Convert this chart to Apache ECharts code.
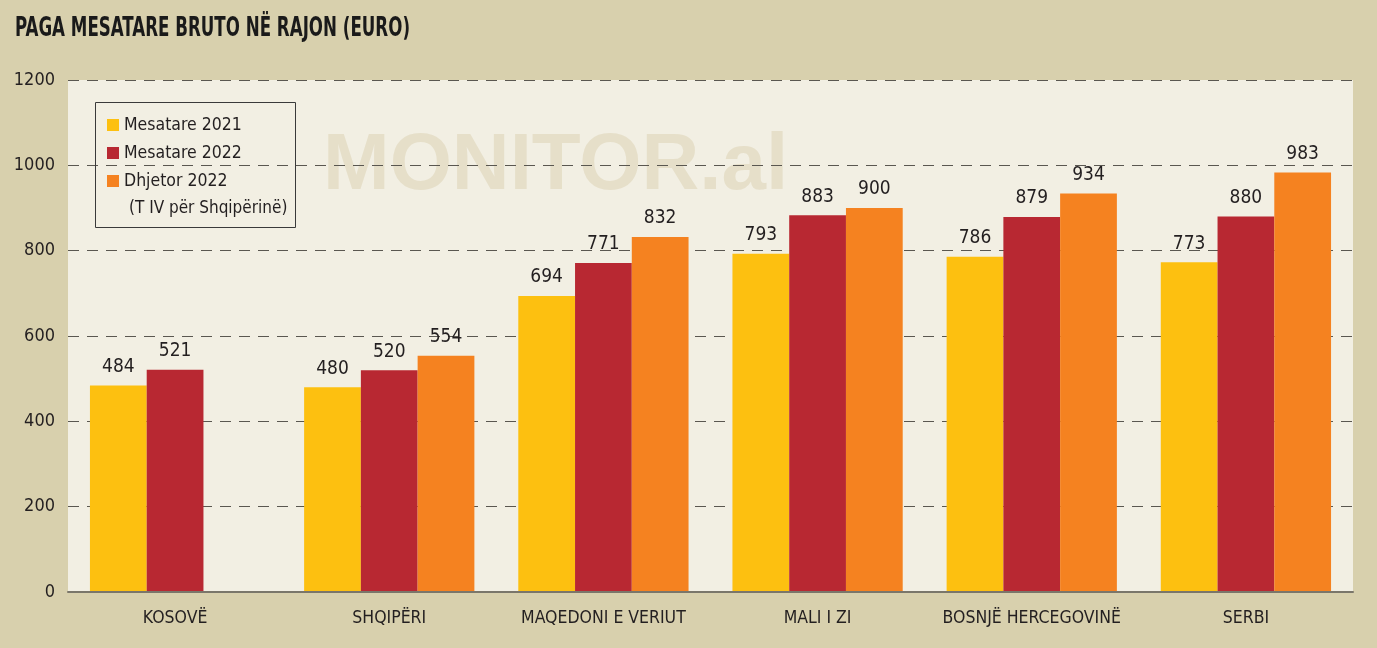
<!DOCTYPE html>
<html>
<head>
<meta charset="utf-8">
<script src="https://cdn.jsdelivr.net/npm/echarts@6/dist/echarts.min.js"></script>
<style>
html,body{margin:0;padding:0;background:#d8d0ad;}
#chart{width:1377px;height:648px;}
</style>
</head>
<body>
<div id="chart"></div>
<script>
const titleText = 'PAGA MESATARE BRUTO NË RAJON (EURO)';
const categories = ['KOSOVË', 'SHQIPËRI', 'MAQEDONI E VERIUT', 'MALI I ZI', 'BOSNJË HERCEGOVINË', 'SERBI'];
const seriesNames = ['Mesatare 2021', 'Mesatare 2022', 'Dhjetor 2022'];
const legendNote = '(T IV për Shqipërinë)';
const mesatare2021 = [484, 480, 694, 793, 786, 773];
const mesatare2022 = [521, 520, 771, 883, 879, 880];
const dhjetor2022 = [null, 554, 832, 900, 934, 983];
const yTicks = [0, 200, 400, 600, 800, 1000, 1200];
const colors = ['#fdc010', '#b82832', '#f58220'];

const FONT = '"DejaVu Sans Condensed", "Liberation Sans Narrow", sans-serif';
const chart = echarts.init(document.getElementById('chart'), null, {renderer: 'canvas'});

function mkSeries(name, data, color) {
  return {
    name: name,
    type: 'bar',
    data: data,
    barGap: '0%',
    barCategoryGap: '20.5%',
    itemStyle: {color: color},
    label: {
      show: true,
      position: 'top',
      distance: 9,
      color: '#231f20',
      fontFamily: FONT,
      fontSize: 19,
      formatter: p => p.value
    },
    z: 3
  };
}

// measure title to squeeze it like the condensed original
const ctx = document.createElement('canvas').getContext('2d');
ctx.font = 'bold 26px ' + FONT;
const titleW = ctx.measureText(titleText).width;
const titleScale = 395 / titleW;

chart.setOption({
  backgroundColor: '#d8d0ad',
  animation: false,
  grid: {
    left: 68, right: 24, top: 80, bottom: 56,
    show: false
  },
  legend: {
    data: seriesNames,
    orient: 'vertical',
    left: 93, top: 100,
    padding: [15, 14, 34, 14],
    itemWidth: 12, itemHeight: 12,
    itemGap: 8,
    itemTextGap: 10,
    icon: 'rect',
    textStyle: {fontFamily: FONT, fontSize: 17.5, color: '#231f20', lineHeight: 20},
    itemStyle: {borderWidth: 0}
  },
  graphic: [
    {
      type: 'rect', left: 68, top: 80, z: -2, silent: true,
      shape: {width: 1285, height: 512},
      style: {fill: '#f2efe3'}
    },
    {
      type: 'text', left: 323, top: 127, z: -1, silent: true,
      style: {text: 'MONITOR.al', font: 'bold 80px "Liberation Sans", Arial, sans-serif', fill: '#e6dfc9'}
    },
    {
      type: 'text', x: 15, y: 16, z: 10, silent: true,
      scaleX: titleScale, scaleY: 1,
      style: {text: titleText, font: 'bold 26px ' + FONT, fill: '#1a1a1a', textVerticalAlign: 'top'}
    },
    {
      type: 'rect', left: 93, top: 100, z: 10, silent: true,
      shape: {width: 200, height: 125},
      style: {fill: 'none', stroke: '#3a3a3a', lineWidth: 1}
    },
    {
      type: 'text', left: 129, top: 200, z: 10, silent: true,
      style: {text: legendNote, font: '17px ' + FONT, fill: '#231f20'}
    }
  ],
  xAxis: {
    type: 'category',
    data: categories,
    axisLine: {show: true, lineStyle: {color: '#7a766a', width: 2}},
    axisTick: {show: false},
    axisLabel: {fontFamily: FONT, fontSize: 17.5, color: '#231f20', margin: 17, interval: 0},
    z: 5
  },
  yAxis: {
    type: 'value',
    min: 0, max: 1200, interval: 200,
    axisLine: {show: false},
    axisTick: {show: false},
    axisLabel: {fontFamily: FONT, fontSize: 18, color: '#231f20', margin: 13,
      formatter: v => yTicks.includes(v) ? String(v) : ''},
    splitLine: {show: true, lineStyle: {color: '#5a5750', width: 1, type: [11, 8]}}
  },
  series: [
    mkSeries(seriesNames[0], mesatare2021, colors[0]),
    mkSeries(seriesNames[1], mesatare2022, colors[1]),
    mkSeries(seriesNames[2], dhjetor2022, colors[2])
  ]
});
</script>
</body>
</html>
